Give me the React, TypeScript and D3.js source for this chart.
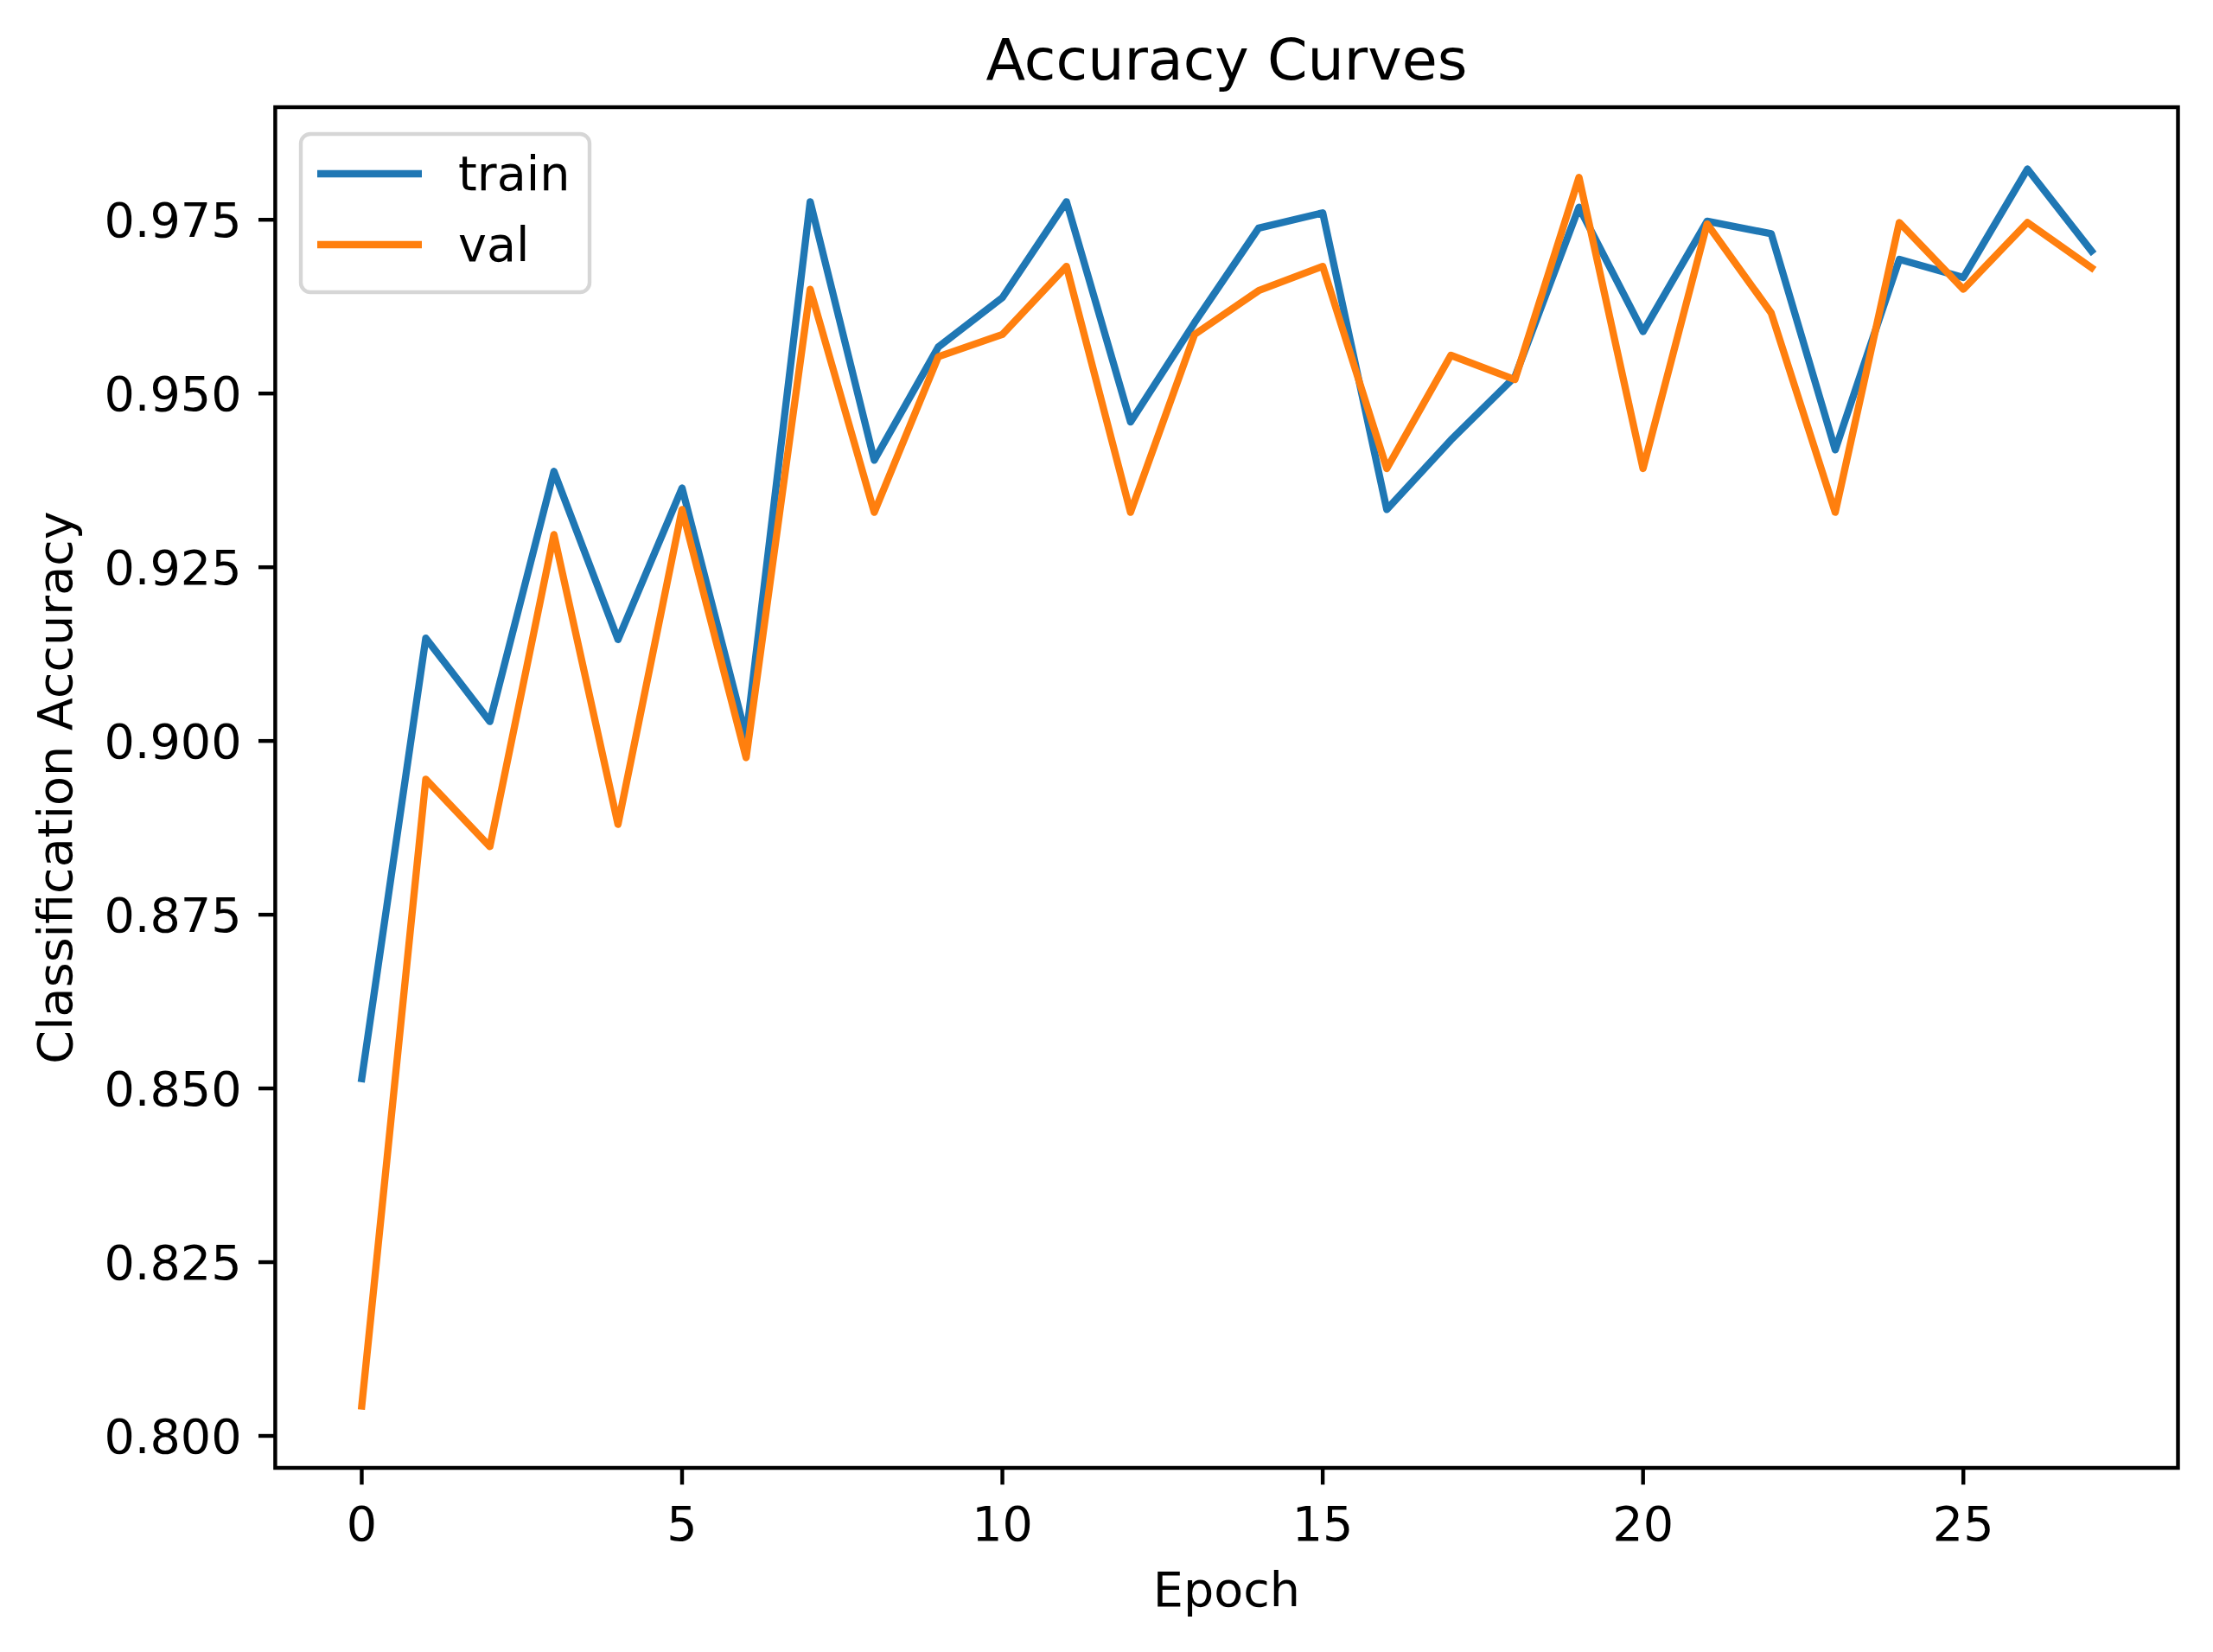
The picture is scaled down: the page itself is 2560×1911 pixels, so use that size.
import * as d3 from "d3";

// epochs 0..27
const epochs: number[] = d3.range(28);

const trainAcc: number[] = [
  0.8514, 0.9148, 0.9028, 0.9388, 0.9146, 0.9364, 0.9006, 0.9776, 0.9404, 0.9567,
  0.9638, 0.9776, 0.9459, 0.9602, 0.9738, 0.976, 0.9333, 0.9433, 0.9524, 0.9768,
  0.9589, 0.9748, 0.973, 0.9419, 0.9693, 0.9667, 0.9823, 0.9705
];

const valAcc: number[] = [
  0.8043, 0.8945, 0.8848, 0.9297, 0.888, 0.9333, 0.8976, 0.965, 0.9329, 0.9553,
  0.9585, 0.9683, 0.9329, 0.9585, 0.9648, 0.9683, 0.9392, 0.9555, 0.952, 0.9811,
  0.9392, 0.9744, 0.9616, 0.9329, 0.9746, 0.965, 0.9746, 0.9681
];

const seriesNames = ["train", "val"];
const seriesColors = ["#1f77b4", "#ff7f0e"];
const xTicks = [0, 5, 10, 15, 20, 25];
const yTicks = [0.8, 0.825, 0.85, 0.875, 0.9, 0.925, 0.95, 0.975];

const width = 2560;
const height = 1911;
const marginLeft = 318.4;
const marginRight = 40.5;
const marginTop = 124;
const marginBottom = 213;

const font = "DejaVu Sans, sans-serif";
const fs = 55.6; // 10pt @ 400dpi
const lw = 8.33; // 1.5pt
const axisW = 4.44; // 0.8pt
const tickLen = 19.4;

// matplotlib-style 5% padding around the data
function padded(lo: number, hi: number): [number, number] {
  const m = (hi - lo) * 0.05;
  return [lo - m, hi + m];
}

export default function App() {
  const allY = [...trainAcc, ...valAcc];
  const x = d3
    .scaleLinear()
    .domain(padded(0, epochs.length - 1))
    .range([marginLeft, width - marginRight]);
  const y = d3
    .scaleLinear()
    .domain(padded(d3.min(allY) as number, d3.max(allY) as number))
    .range([height - marginBottom, marginTop]);

  const line = d3
    .line<number>()
    .x((_, i) => x(epochs[i]))
    .y(d => y(d));

  const x0 = marginLeft;
  const x1 = width - marginRight;
  const y0 = height - marginBottom;
  const y1 = marginTop;
  const cx = (x0 + x1) / 2;
  const cy = (y0 + y1) / 2;

  const series = [trainAcc, valAcc];

  // legend box
  const lgX = 348;
  const lgY = 155;
  const lgW = 334;
  const lgH = 183;

  return (
    <svg
      width={width}
      height={height}
      style={{ position: "absolute", left: 0, top: 0, background: "#fff" }}
      fontFamily={font}
    >
      <rect width={width} height={height} fill="#fff" />

      {/* data lines */}
      <g fill="none" strokeWidth={lw} strokeLinejoin="round" strokeLinecap="square">
        {series.map((s, i) => (
          <path key={i} d={line(s) || undefined} stroke={seriesColors[i]} />
        ))}
      </g>

      {/* y ticks */}
      <g>
        {yTicks.map(t => (
          <g key={t}>
            <line x1={x0 - tickLen} x2={x0} y1={y(t)} y2={y(t)} stroke="#000" strokeWidth={axisW} />
            <text
              x={x0 - tickLen - 19.4}
              y={y(t) + fs * 0.36}
              fontSize={fs}
              textAnchor="end"
            >
              {d3.format(".3f")(t)}
            </text>
          </g>
        ))}
      </g>

      {/* x ticks */}
      <g>
        {xTicks.map(t => (
          <g key={t}>
            <line x1={x(t)} x2={x(t)} y1={y0} y2={y0 + tickLen} stroke="#000" strokeWidth={axisW} />
            <text x={x(t)} y={1782} fontSize={fs} textAnchor="middle">
              {t}
            </text>
          </g>
        ))}
      </g>

      {/* spines */}
      <rect
        x={x0}
        y={y1}
        width={x1 - x0}
        height={y0 - y1}
        fill="none"
        stroke="#000"
        strokeWidth={axisW}
        strokeLinejoin="miter"
      />

      {/* legend */}
      <g>
        <rect
          x={lgX}
          y={lgY}
          width={lgW}
          height={lgH}
          rx={11}
          fill="#fff"
          fillOpacity={0.8}
          stroke="#d6d6d6"
          strokeWidth={4.4}
        />
        {seriesNames.map((name, i) => (
          <g key={name}>
            <line
              x1={367}
              x2={488}
              y1={201 + i * 82}
              y2={201 + i * 82}
              stroke={seriesColors[i]}
              strokeWidth={lw}
            />
            <text x={530} y={220 + i * 82} fontSize={fs}>
              {name}
            </text>
          </g>
        ))}
      </g>

      {/* title and axis labels */}
      <text x={cx} y={92} fontSize={66.7} textAnchor="middle">
        Accuracy Curves
      </text>
      <text x={cx} y={1858} fontSize={fs} textAnchor="middle">
        Epoch
      </text>
      <text
        transform={`translate(83,${cy}) rotate(-90)`}
        fontSize={fs}
        textAnchor="middle"
      >
        Classification Accuracy
      </text>
    </svg>
  );
}
